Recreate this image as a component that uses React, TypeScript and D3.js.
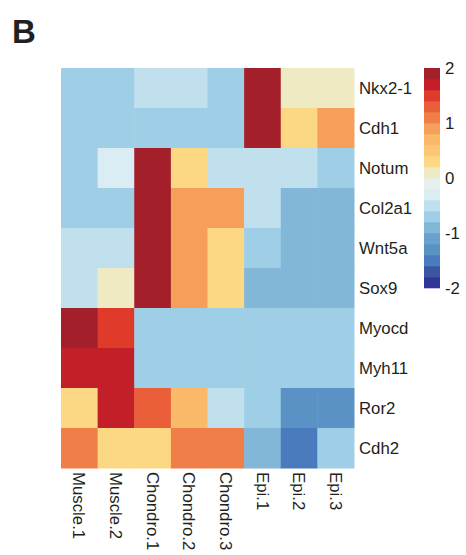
import React from "react";
import * as d3 from "d3";

const genes = ["Nkx2-1", "Cdh1", "Notum", "Col2a1", "Wnt5a", "Sox9", "Myocd", "Myh11", "Ror2", "Cdh2"];
const samples = ["Muscle.1", "Muscle.2", "Chondro.1", "Chondro.2", "Chondro.3", "Epi.1", "Epi.2", "Epi.3"];

const nkx21 = [-0.7, -0.7, -0.5, -0.5, -0.7, 1.9, 0.1, 0.1];
const cdh1 = [-0.7, -0.7, -0.7, -0.7, -0.7, 1.9, 0.3, 0.9];
const notum = [-0.7, -0.3, 1.9, 0.3, -0.5, -0.5, -0.5, -0.7];
const col2a1 = [-0.7, -0.7, 1.9, 0.9, 0.9, -0.5, -0.9, -0.9];
const wnt5a = [-0.5, -0.5, 1.9, 0.9, 0.3, -0.7, -0.9, -0.9];
const sox9 = [-0.5, 0.1, 1.9, 0.9, 0.3, -0.9, -0.9, -0.9];
const myocd = [1.9, 1.5, -0.7, -0.7, -0.7, -0.7, -0.7, -0.7];
const myh11 = [1.7, 1.7, -0.7, -0.7, -0.7, -0.7, -0.7, -0.7];
const ror2 = [0.3, 1.7, 1.3, 0.7, -0.5, -0.7, -1.3, -1.3];
const cdh2 = [1.1, 0.3, 0.3, 1.1, 1.1, -0.9, -1.5, -0.7];

const matrix = [nkx21, cdh1, notum, col2a1, wnt5a, sox9, myocd, myh11, ror2, cdh2];

const legendTicks = [2, 1, 0, -1, -2];

// 20 bins from -2 to 2 (low to high)
const palette = [
  "#313695", "#3b55a3", "#4a7cbd", "#5b92c6", "#6aa2cd",
  "#82b7d7", "#9ecfe6", "#c0e0ee", "#dbedf4", "#e6f1ef",
  "#eeebc4", "#fdd884", "#fcc672", "#fbb96a", "#f59f5a",
  "#ef7e48", "#ea5e3a", "#df3a2a", "#c21f28", "#a31f29",
];

export default function App() {
  const gx0 = 61, gx1 = 354, gy0 = 68, gy1 = 468;
  const x = d3.scaleBand<string>().domain(samples).range([gx0, gx1]);
  const y = d3.scaleBand<string>().domain(genes).range([gy0, gy1]);
  const color = d3.scaleQuantize<string>().domain([-2, 2]).range(palette);

  const lx0 = 424, lx1 = 440, ly0 = 68, ly1 = 288;
  const ly = d3.scaleLinear().domain([2, -2]).range([ly0, ly1]);
  const bins = palette.map((c, i) => {
    const lo = -2 + (4 * i) / palette.length;
    const hi = -2 + (4 * (i + 1)) / palette.length;
    return { c, lo, hi };
  });

  const font = "'Liberation Sans', Arial, sans-serif";
  const fs = 16.8;

  return (
    <svg width={466} height={555} style={{ position: "absolute", left: 0, top: 0, background: "#fff" }}>
      <text x={12} y={43} fontFamily={font} fontWeight="bold" fontSize={33} fill="#231f20">B</text>
      {matrix.map((row, ri) =>
        row.map((v, ci) => (
          <rect
            key={`${ri}-${ci}`}
            x={x(samples[ci])!}
            y={y(genes[ri])!}
            width={x.bandwidth() + 0.5}
            height={y.bandwidth() + 0.5}
            fill={color(v)}
          />
        ))
      )}
      {genes.map((g) => (
        <text key={g} x={359} y={y(g)! + y.bandwidth() / 2} dy="0.35em" fontFamily={font} fontSize={fs} fill="#231f20">
          {g}
        </text>
      ))}
      {samples.map((s) => (
        <text
          key={s}
          transform={`translate(${x(s)! + x.bandwidth() / 2},${gy1 + 4}) rotate(90)`}
          dy="0.35em"
          fontFamily={font}
          fontSize={fs}
          fill="#231f20"
        >
          {s}
        </text>
      ))}
      {bins.map((b, i) => (
        <rect key={i} x={lx0} y={ly(b.hi)} width={lx1 - lx0} height={ly(b.lo) - ly(b.hi) + 0.3} fill={b.c} />
      ))}
      {legendTicks.map((t) => (
        <text key={t} x={445} y={ly(t)} dy="0.35em" fontFamily={font} fontSize={fs} fill="#231f20">
          {t}
        </text>
      ))}
    </svg>
  );
}
